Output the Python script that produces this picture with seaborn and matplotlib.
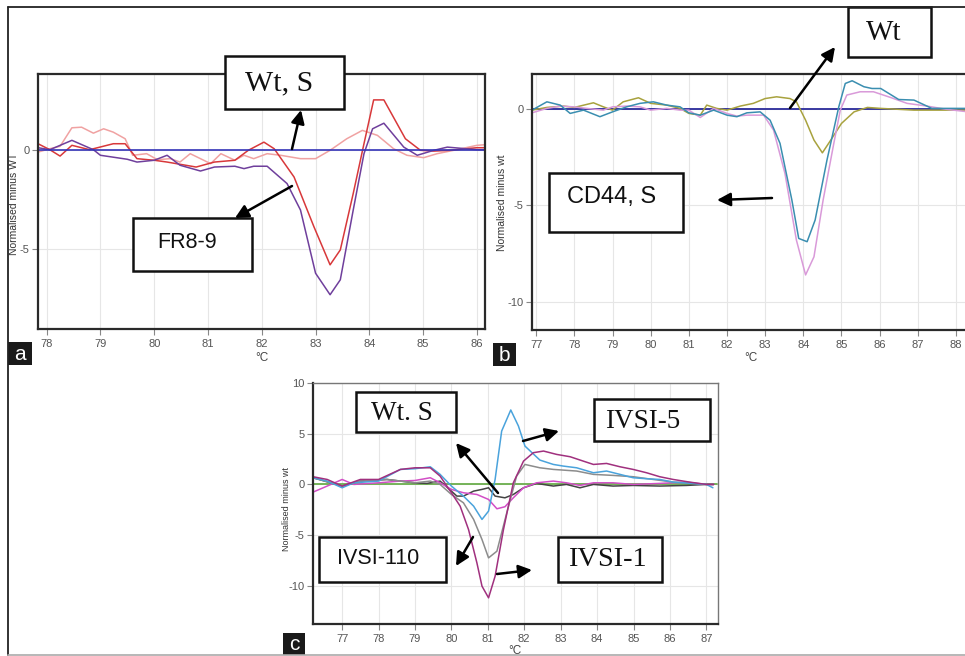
import matplotlib
matplotlib.use("Agg")
import matplotlib.pyplot as plt
import matplotlib.patches as mpatches
import seaborn as sns

# ---------------- DATA ----------------
# Panel a (x in degC, y normalised minus WT)
a_wt_x = [77.84, 86.15]
a_wt_y = [0.0, 0.0]
a_red_x = [77.84, 78.06, 78.25, 78.47, 78.8, 79.24, 79.46, 79.68, 80.0, 80.24, 80.78, 81.12, 81.5, 81.75,
           82.04, 82.23, 82.6, 82.97, 83.27, 83.46, 83.7, 83.9, 84.08, 84.27, 84.67, 84.95, 85.2, 85.5, 86.0, 86.15]
a_red_y = [0.3, 0.0, -0.32, 0.22, 0.0, 0.3, 0.3, -0.45, -0.53, -0.62, -0.87, -0.62, -0.53, -0.03,
           0.38, 0.05, -1.37, -3.87, -5.78, -5.03, -2.2, 0.3, 2.5, 2.5, 0.55, -0.03, -0.07, -0.03, 0.1, 0.1]
a_pur_x = [77.84, 78.06, 78.47, 78.87, 79.0, 79.5, 79.68, 80.0, 80.24, 80.48, 80.86, 81.12, 81.5, 81.67, 81.85,
           82.1, 82.47, 82.72, 83.0, 83.27, 83.46, 83.7, 83.9, 84.06, 84.27, 84.64, 84.89, 85.2, 85.45, 86.0, 86.15]
a_pur_y = [0.1, 0.0, 0.47, 0.0, -0.28, -0.48, -0.62, -0.53, -0.28, -0.78, -1.07, -0.87, -0.83, -0.95, -0.83,
           -0.83, -1.7, -3.03, -6.2, -7.28, -6.53, -3.03, -0.2, 1.05, 1.33, 0.13, -0.28, -0.03, 0.13, 0.0, 0.0]
a_pink_x = [77.84, 78.06, 78.25, 78.47, 78.65, 78.87, 79.06, 79.24, 79.46, 79.6, 79.86, 80.06, 80.3, 80.48, 80.67,
            80.86, 81.05, 81.24, 81.5, 81.67, 81.85, 82.1, 82.35, 82.72, 83.0, 83.27, 83.58, 83.87, 84.15, 84.45,
            84.7, 85.01, 85.26, 85.57, 86.0, 86.15]
a_pink_y = [-0.12, 0.05, 0.17, 1.1, 1.13, 0.83, 1.05, 0.88, 0.55, -0.28, -0.2, -0.5, -0.45, -0.62, -0.2,
            -0.45, -0.7, -0.2, -0.53, -0.28, -0.45, -0.2, -0.28, -0.45, -0.45, -0.03, 0.55, 0.97, 0.72, 0.05,
            -0.28, -0.4, -0.2, -0.03, 0.22, 0.25]

# Panel b
b_wt_x = [76.89, 88.5]
b_wt_y = [0.0, 0.0]
b_olive_x = [76.89, 77.28, 77.72, 78.0, 78.5, 78.76, 79.0, 79.28, 79.68, 80.0, 80.42, 80.77, 81.0, 81.3, 81.47,
             81.73, 82.0, 82.35, 82.69, 83.0, 83.3, 83.65, 83.82, 84.06, 84.28, 84.5, 84.72, 85.0, 85.33, 85.68,
             86.03, 86.9, 88.5]
b_olive_y = [-0.07, 0.07, 0.14, 0.07, 0.31, 0.1, -0.07, 0.36, 0.57, 0.28, 0.19, 0.02, -0.24, -0.33, 0.19,
             0.02, -0.07, 0.14, 0.28, 0.53, 0.62, 0.53, 0.36, -0.59, -1.62, -2.28, -1.62, -0.76, -0.16, 0.07,
             0.02, -0.07, -0.07]
b_teal_x = [76.89, 77.28, 77.63, 77.89, 78.24, 78.67, 79.0, 79.37, 79.72, 80.07, 80.42, 80.77, 81.0, 81.3, 81.65,
            82.0, 82.26, 82.52, 82.87, 83.13, 83.39, 83.7, 83.88, 84.1, 84.31, 84.62, 84.93, 85.1, 85.28, 85.59,
            85.8, 86.03, 86.5, 86.9, 87.37, 88.5]
b_teal_y = [-0.07, 0.36, 0.19, -0.24, -0.07, -0.41, -0.16, 0.1, 0.28, 0.36, 0.19, 0.1, -0.21, -0.33, -0.07,
            -0.33, -0.41, -0.21, -0.16, -0.59, -1.79, -4.72, -6.71, -6.88, -5.76, -2.66, 0.1, 1.31, 1.45, 1.14,
            1.05, 1.05, 0.48, 0.45, 0.02, 0.02]
b_violet_x = [76.89, 77.28, 77.63, 77.98, 78.33, 78.76, 79.0, 79.37, 79.72, 80.0, 80.42, 80.77, 81.0, 81.3, 81.65,
              82.0, 82.26, 82.52, 82.96, 83.22, 83.52, 83.82, 84.06, 84.28, 84.52, 84.8, 84.97, 85.14, 85.49,
              85.84, 86.28, 86.72, 87.24, 87.76, 88.5]
b_violet_y = [-0.21, 0.02, 0.14, 0.1, 0.02, -0.07, 0.1, 0.14, 0.1, -0.07, 0.02, -0.07, -0.07, -0.45, 0.02,
              -0.24, -0.38, -0.33, -0.33, -1.1, -3.35, -6.8, -8.6, -7.66, -4.72, -1.79, -0.07, 0.71, 0.88,
              0.88, 0.59, 0.28, 0.14, -0.03, -0.2]

# Panel c
c_wt_x = [76.2, 87.3]
c_wt_y = [0.0, 0.0]
c_ivs5_x = [76.2, 76.59, 77.0, 77.32, 78.0, 78.6, 79.0, 79.42, 79.69, 80.0, 80.33, 80.61, 80.84, 81.02, 81.2,
            81.38, 81.63, 81.84, 82.02, 82.43, 82.8, 83.07, 83.44, 83.9, 84.26, 84.63, 84.99, 85.36, 85.72,
            86.09, 86.63, 87.0, 87.18]
c_ivs5_y = [0.66, 0.33, -0.33, 0.16, 0.33, 1.48, 1.55, 1.74, 0.99, -0.16, -1.15, -2.14, -3.45, -2.63, 0.49,
            5.26, 7.34, 5.76, 3.78, 2.4, 1.97, 1.81, 1.64, 1.15, 1.32, 0.99, 0.66, 0.56, 0.49,
            0.23, 0.1, 0.0, -0.33]
c_ivs1_x = [76.2, 76.59, 77.0, 77.5, 78.0, 78.6, 79.0, 79.42, 79.69, 80.0, 80.24, 80.47, 80.7, 80.84, 81.02,
            81.2, 81.43, 81.7, 81.98, 82.25, 82.53, 82.89, 83.26, 83.62, 83.9, 84.26, 84.63, 84.99, 85.36,
            85.72, 86.09, 86.54, 87.0, 87.2]
c_ivs1_y = [0.76, 0.49, -0.16, 0.49, 0.49, 1.48, 1.64, 1.64, 0.82, -0.82, -2.14, -4.44, -7.73, -10.03, -11.18,
            -9.05, -4.44, 0.16, 2.3, 3.13, 3.29, 2.96, 2.73, 2.3, 1.97, 2.07, 1.74, 1.48, 1.15,
            0.76, 0.49, 0.23, 0.0, 0.0]
c_ivs110_x = [76.2, 77.0, 77.5, 78.23, 79.0, 79.42, 79.69, 80.0, 80.33, 80.61, 80.84, 81.02, 81.25, 81.52,
              81.79, 82.02, 82.43, 82.8, 83.44, 83.9, 84.44, 84.99, 85.54, 86.09, 87.0, 87.2]
c_ivs110_y = [0.66, -0.16, 0.33, 0.49, 0.16, 0.33, 0.0, -0.99, -1.81, -3.45, -5.43, -7.24, -6.58, -2.8,
              0.82, 1.97, 1.64, 1.48, 1.32, 0.99, 0.89, 0.76, 0.49, 0.23, 0.0, 0.0]
c_wts_x = [76.2, 77.0, 77.5, 78.23, 79.0, 79.33, 79.69, 80.0, 80.15, 80.33, 80.61, 80.84, 81.02, 81.2, 81.47,
           81.7, 81.98, 82.34, 82.8, 83.16, 83.53, 83.9, 84.44, 84.99, 85.72, 86.45, 87.0, 87.2]
c_wts_y = [0.66, -0.16, 0.33, 0.49, 0.16, 0.1, 0.33, -0.66, -1.15, -1.15, -0.66, -0.49, -0.33, -1.15, -1.32,
           -0.99, -0.33, 0.1, -0.16, 0.0, -0.33, 0.0, -0.16, -0.1, -0.16, -0.1, 0.0, 0.0]
c_pink_x = [76.2, 76.59, 77.0, 77.32, 78.0, 78.6, 79.0, 79.42, 79.69, 80.0, 80.33, 80.7, 81.02, 81.25, 81.47,
            81.7, 81.98, 82.34, 82.8, 83.16, 83.53, 83.9, 84.44, 84.99, 85.72, 86.45, 87.0, 87.2]
c_pink_y = [-0.76, -0.16, 0.49, 0.0, 0.16, 0.33, 0.39, 0.66, 0.16, -0.49, -0.82, -0.99, -1.48, -2.4, -2.2,
            -1.32, -0.33, 0.16, 0.33, 0.16, -0.1, 0.16, 0.16, 0.0, 0.1, 0.23, 0.0, 0.0]

a_xticks = [78, 79, 80, 81, 82, 83, 84, 85, 86]
a_yticks = [0, -5]
b_xticks = [77, 78, 79, 80, 81, 82, 83, 84, 85, 86, 87, 88]
b_yticks = [0, -5, -10]
c_xticks = [77, 78, 79, 80, 81, 82, 83, 84, 85, 86, 87]
c_yticks = [10, 5, 0, -5, -10]

# ---------------- FIGURE ----------------
sns.set_style("white")
plt.rcParams['font.family'] = ['Liberation Sans', 'DejaVu Sans']

W, H = 965, 656
fig = plt.figure(figsize=(W / 100, H / 100), dpi=100)


def px_axes(l, t, r, b):
    return fig.add_axes([l / W, 1 - b / H, (r - l) / W, (b - t) / H])


def style_axes(ax, xlim, ylim, xticks, yticks, light_tr=False):
    ax.set_xlim(*xlim)
    ax.set_ylim(*ylim)
    ax.set_xticks(xticks)
    ax.set_yticks(yticks)
    ax.set_xticklabels([str(t) for t in xticks])
    ax.set_yticklabels([str(t) for t in yticks])
    ax.grid(True, color="#e6e6e6", lw=0.8)
    ax.set_axisbelow(True)
    ax.tick_params(axis="both", direction="out", length=4, width=0.8, color="#888888",
                   labelsize=8, labelcolor="#555555", pad=2, bottom=True, left=True)
    ax.tick_params(axis="x", pad=3)
    for side, sp in ax.spines.items():
        sp.set_visible(True)
        sp.set_color("#2a2a2a")
        sp.set_linewidth(1.6)
    if light_tr:
        ax.spines["top"].set_color("#777777")
        ax.spines["right"].set_color("#777777")
        ax.spines["top"].set_linewidth(1.0)
        ax.spines["right"].set_linewidth(1.0)
    ax.set_xlabel("")
    ax.set_ylabel("")


def line(ax, x, y, color, lw=1.1):
    sns.lineplot(x=x, y=y, ax=ax, color=color, lw=lw, estimator=None, sort=False)


# Panel a
axa = px_axes(38, 74, 485, 329)
line(axa, a_pink_x, a_pink_y, "#f0a2a2")
line(axa, a_red_x, a_red_y, "#d8383a")
line(axa, a_pur_x, a_pur_y, "#6f3f9c")
line(axa, a_wt_x, a_wt_y, "#3434b8", 1.2)
style_axes(axa, (77.84, 86.15), (-9.0, 3.8), a_xticks, a_yticks)

# Panel b
axb = px_axes(532, 74, 975, 330)
line(axb, b_wt_x, b_wt_y, "#2a2a9a", 1.3)
line(axb, b_olive_x, b_olive_y, "#a8a23e")
line(axb, b_violet_x, b_violet_y, "#d99ad9")
line(axb, b_teal_x, b_teal_y, "#3a8eb0")
style_axes(axb, (76.89, 88.5), (-11.45, 1.8), b_xticks, b_yticks)

# Panel c
axc = px_axes(313, 383, 718, 624)
line(axc, c_wt_x, c_wt_y, "#6aae4c", 1.3)
line(axc, c_wts_x, c_wts_y, "#444444")
line(axc, c_pink_x, c_pink_y, "#d24ec6")
line(axc, c_ivs110_x, c_ivs110_y, "#8c8c8c")
line(axc, c_ivs5_x, c_ivs5_y, "#4aa3dc")
line(axc, c_ivs1_x, c_ivs1_y, "#a0307e")
style_axes(axc, (76.2, 87.32), (-13.76, 10.0), c_xticks, c_yticks, light_tr=True)

# ---------------- OVERLAY (annotations, frame, labels) ----------------
ov = fig.add_axes([0, 0, 1, 1], zorder=10)
ov.set_xlim(0, W)
ov.set_ylim(H, 0)
ov.axis("off")
ov.patch.set_alpha(0)

# outer frame
ov.plot([8, W], [6.5, 6.5], color="#222222", lw=1.3)
ov.plot([8, 8], [6.5, 655], color="#222222", lw=1.3)
ov.plot([8, W], [655, 655], color="#aaaaaa", lw=1.2)

# axis titles
ov.text(14.5, 204, "Normalised minus WT", rotation=90, ha="center", va="center", fontsize=7.5, color="#333333")
ov.text(502, 203, "Normalised minus wt", rotation=90, ha="center", va="center", fontsize=7.5, color="#333333")
ov.text(286.5, 509, "Normalised minus wt", rotation=90, ha="center", va="center", fontsize=6.5, color="#333333")
ov.text(262, 358, "°C", ha="center", va="center", fontsize=8.5, color="#444444")
ov.text(751, 358, "°C", ha="center", va="center", fontsize=8.5, color="#444444")
ov.text(515, 651, "°C", ha="center", va="center", fontsize=8.5, color="#444444")

# panel letters
for (l, t, r, b, s) in [(8, 342, 32, 365, "a"), (493, 343, 516, 366, "b"), (283, 633, 305, 655, "c")]:
    ov.add_patch(mpatches.Rectangle((l, t), r - l, b - t, facecolor="#1a1a1a", edgecolor="none"))
    ov.text((l + r) / 2, (t + b) / 2 + 1, s, ha="center", va="center", fontsize=15, color="white")

SERIF = ["Liberation Serif", "DejaVu Serif"]
SANS = ["Liberation Sans", "DejaVu Sans"]


def box(l, t, r, b, txt, tx, ty, fs, fam):
    ov.add_patch(mpatches.Rectangle((l, t), r - l, b - t, facecolor="white", edgecolor="#111111", lw=1.8))
    ov.text(tx, ty, txt, ha="center", va="center", fontsize=fs, family=fam, color="#111111")


def arrow(x0, y0, x1, y1):
    ov.annotate("", xy=(x1, y1), xytext=(x0, y0),
                arrowprops=dict(arrowstyle="-|>", color="black", lw=1.8, mutation_scale=20,
                                shrinkA=0, shrinkB=0))


# panel a annotations
box(225, 56, 344, 109, "Wt, S", 279, 83, 21.5, SERIF)
arrow(292, 149, 301, 110)
box(133, 218, 252, 271, "FR8-9", 187, 242, 15.5, SANS)
arrow(292, 186, 235, 218)

# panel b annotations
box(848, 7, 931, 57, "Wt", 884, 33, 21, SERIF)
arrow(790, 108, 835, 47)
box(549, 173, 683, 232, "CD44, S", 612, 197, 17, SANS)
arrow(772, 198, 717, 200)

# panel c annotations
box(356, 392, 456, 432, "Wt. S", 402, 414, 19.5, SERIF)
arrow(498, 493, 456, 443)
box(594, 399, 710, 441, "IVSI-5", 643, 422, 19.5, SERIF)
arrow(523, 441, 559, 431)
box(319, 537, 446, 582, "IVSI-110", 378, 558, 15.5, SANS)
arrow(473, 537, 456, 566)
box(558, 537, 662, 582, "IVSI-1", 607, 560, 20.5, SERIF)
arrow(497, 574, 532, 570)

fig.savefig("out.png", dpi=100)
